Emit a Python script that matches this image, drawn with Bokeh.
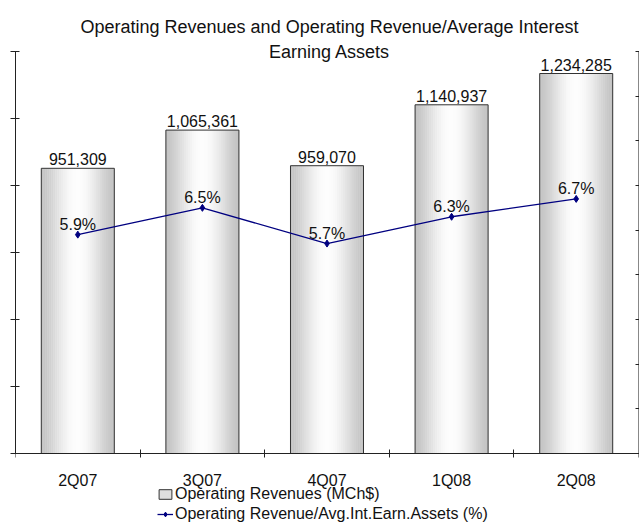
import math
from bokeh.plotting import figure
from bokeh.models import (Range1d, LinearAxis, FixedTicker, Label,
                          Legend, LegendItem, ColumnDataSource,
                          CustomJSTickFormatter)
from bokeh.transform import dodge
from bokeh.core.properties import value
from bokeh.embed import file_html
from bokeh.resources import INLINE

# ---- data ----
quarters = ["2Q07", "3Q07", "4Q07", "1Q08", "2Q08"]
revenues = [951309, 1065361, 959070, 1140937, 1234285]
ratio_pct = [5.9, 6.5, 5.7, 6.3, 6.7]
rev_ticks = [100000, 300000, 500000, 700000, 900000, 1100000, 1300000]
pct_ticks = [1, 2, 3, 4, 5, 6, 7, 8, 9, 10]
title_lines = ["Operating Revenues and Operating Revenue/Average Interest",
               "Earning Assets"]
legend_labels = ["Operating Revenues (MCh$)",
                 "Operating Revenue/Avg.Int.Earn.Assets (%)"]

FONT = "Liberation Sans"
NAVY = "#000080"
DARK = "#222222"

# ---- layout constants (pixels) ----
W, H = 639, 523
AX_TOP, AX_BASE = 51, 453          # where the value axes start / end
LEFT, RIGHT_BORDER = 15, 1


def span(lo, hi):
    """Extend an axis range so that [lo, hi] occupies AX_BASE..AX_TOP."""
    k = (hi - lo) / (AX_BASE - AX_TOP)
    return Range1d(lo - (H - AX_BASE) * k, hi + AX_TOP * k)


xpos = [i + 0.5 for i in range(len(quarters))]

src = ColumnDataSource(dict(
    x=xpos, q=quarters, rev=revenues, pct=ratio_pct,
    rev_lbl=[f"{v:,}" for v in revenues],
    pct_lbl=[f"{v:.1f}%" for v in ratio_pct],
))

p = figure(width=W, height=H,
           x_range=Range1d(0, len(quarters)),
           y_range=span(rev_ticks[0], rev_ticks[-1]),
           x_axis_location=None, y_axis_location=None,
           toolbar_location=None, output_backend="svg",
           min_border_left=LEFT, min_border_right=RIGHT_BORDER,
           min_border_top=0, min_border_bottom=0,
           outline_line_color=None,
           background_fill_color="white", border_fill_color="white")
p.grid.visible = False
p.extra_y_ranges = {"pct": span(pct_ticks[0], pct_ticks[-1])}

# ---- bars with cylindrical shading ----
BAR_W = 0.586
N = 36
strips = []
for i in range(N):
    t = (i + 0.5) / N
    lvl = int(round(195 + 58 * math.sin(math.pi * t) ** 1.5))
    col = "#%02x%02x%02x" % (lvl, lvl, lvl)
    off = -BAR_W / 2 + t * BAR_W
    r = p.vbar(x=dodge("x", off), top="rev",
               bottom=rev_ticks[0], width=BAR_W / N * 1.2, source=src,
               fill_color=col, line_color=None)
    strips.append(r)
outline = p.vbar(x="x", top="rev", bottom=rev_ticks[0], width=BAR_W,
                 source=src, fill_color=None, line_color="#333333",
                 line_width=1)

# ---- ratio line ----
ln = p.line(x="x", y="pct", y_range_name="pct", source=src,
            line_color=NAVY, line_width=1.3)
mk = p.scatter(x="x", y="pct", y_range_name="pct", source=src,
               marker="diamond", size=7, fill_color=NAVY, line_color=NAVY)

# ---- data labels ----
p.text(x="x", y="rev", text="rev_lbl", source=src, text_align="center",
       text_baseline="alphabetic", y_offset=-9, text_font=value(FONT),
       text_font_size="16px", text_color="#111111")
p.text(x="x", y="pct", y_range_name="pct", text="pct_lbl", source=src,
       text_align="center", text_baseline="alphabetic", y_offset=-10,
       text_font=value(FONT), text_font_size="16px", text_color="#111111")

# ---- axes ----
ax_l = LinearAxis(ticker=FixedTicker(ticks=rev_ticks),
                  formatter=CustomJSTickFormatter(code="return ''"),
                  bounds=(rev_ticks[0], rev_ticks[-1]),
                  major_label_standoff=0,
                  major_tick_in=4, major_tick_out=5,
                  minor_tick_line_color=None,
                  axis_line_color=DARK, major_tick_line_color=DARK)
p.add_layout(ax_l, "left")

ax_r = LinearAxis(y_range_name="pct", ticker=FixedTicker(ticks=pct_ticks),
                  formatter=CustomJSTickFormatter(code="return ''"),
                  bounds=(pct_ticks[0], pct_ticks[-1]),
                  major_label_standoff=0,
                  major_tick_in=3, major_tick_out=1,
                  minor_tick_line_color=None,
                  axis_line_color="#888888", major_tick_line_color=DARK)
p.add_layout(ax_r, "right")

overrides = {}
for c, q in zip(xpos, quarters):
    overrides[c] = q
    overrides[str(c)] = q
ax_b = LinearAxis(ticker=FixedTicker(ticks=xpos,
                                     minor_ticks=list(range(len(quarters) + 1))),
                  fixed_location=rev_ticks[0],
                  major_label_overrides=overrides,
                  major_tick_line_color=None,
                  minor_tick_in=4, minor_tick_out=4,
                  minor_tick_line_color=DARK, axis_line_color=DARK,
                  major_label_text_font=FONT, major_label_text_font_size="16px",
                  major_label_text_color="#111111",
                  major_label_standoff=12)
p.add_layout(ax_b, "below")

# ---- title ----
p.add_layout(Label(x=314, y=H - 26, x_units="screen", y_units="screen",
                   text=title_lines[0], text_align="center",
                   text_baseline="alphabetic", text_font=FONT,
                   text_font_size="18px", text_color="#111111"))
p.add_layout(Label(x=314, y=H - 51, x_units="screen", y_units="screen",
                   text=title_lines[1], text_align="center",
                   text_baseline="alphabetic", text_font=FONT,
                   text_font_size="18px", text_color="#111111"))

# ---- legend ----
legend = Legend(items=[
    LegendItem(label=legend_labels[0], renderers=[strips[N // 5], outline]),
    LegendItem(label=legend_labels[1], renderers=[ln, mk]),
], location=(142, -1), orientation="vertical",
   label_text_font=FONT, label_text_font_size="16px",
   label_text_color="#111111",
   glyph_width=16, glyph_height=12, label_height=20, spacing=0,
   padding=0, margin=0, border_line_color=None, background_fill_alpha=0,
   label_standoff=2)
p.add_layout(legend, "center")

open("out.html", "w").write(file_html(p, INLINE))
